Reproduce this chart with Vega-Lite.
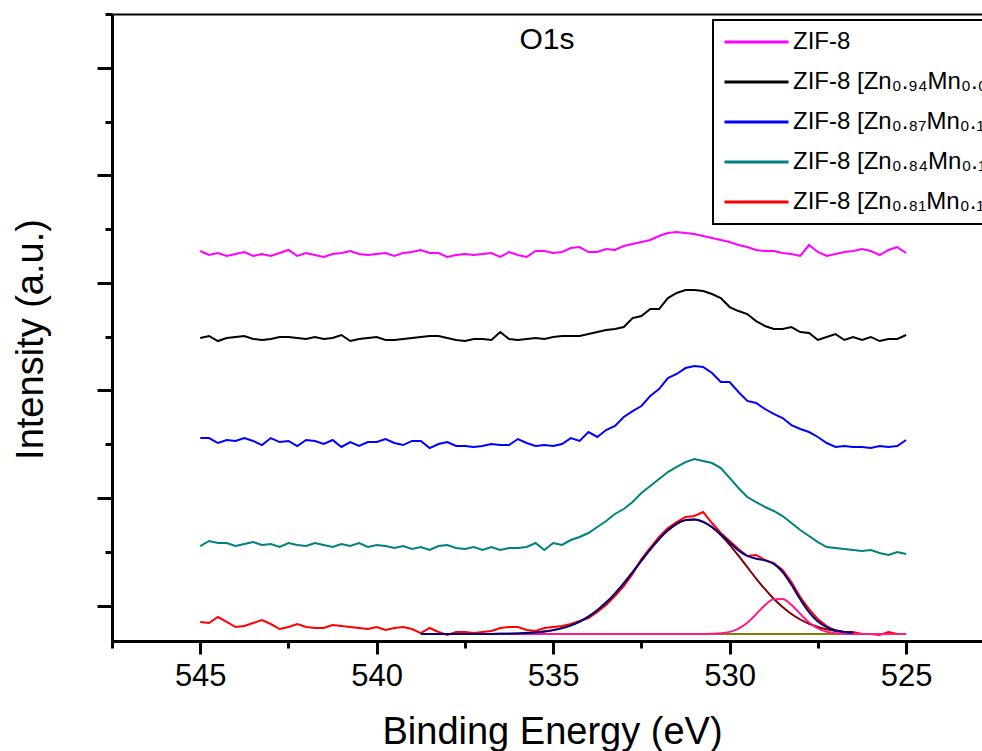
{
"$schema": "https://vega.github.io/schema/vega-lite/v6.json",
"width": 870, "height": 627,
"autosize": {"type": "none"},
"padding": {"left": 112, "top": 14, "right": 0, "bottom": 110},
"background": "white",
"config": {"view": {"stroke": null}, "font": "Liberation Sans", "legend": {"strokeWidth": 2}},
"title": {"text": "O1s", "frame": "group", "anchor": "middle", "baseline": "alphabetic", "offset": -39, "dy": 27, "font": "Liberation Sans", "fontSize": 30, "fontWeight": "normal", "color": "black"},
"data": {"values": [
{"s":"z","e":545,"i":3.296},{"s":"z","e":544.75,"i":3.259},{"s":"z","e":544.5,"i":3.278},{"s":"z","e":544.25,"i":3.25},{"s":"z","e":544,"i":3.268},{"s":"z","e":543.75,"i":3.287},{"s":"z","e":543.5,"i":3.25},{"s":"z","e":543.25,"i":3.268},{"s":"z","e":543,"i":3.25},{"s":"z","e":542.75,"i":3.278},{"s":"z","e":542.5,"i":3.306},{"s":"z","e":542.25,"i":3.25},{"s":"z","e":542,"i":3.278},{"s":"z","e":541.75,"i":3.259},{"s":"z","e":541.5,"i":3.241},{"s":"z","e":541.25,"i":3.268},{"s":"z","e":541,"i":3.278},{"s":"z","e":540.75,"i":3.296},{"s":"z","e":540.5,"i":3.268},{"s":"z","e":540.25,"i":3.259},{"s":"z","e":540,"i":3.268},{"s":"z","e":539.75,"i":3.278},{"s":"z","e":539.5,"i":3.25},{"s":"z","e":539.25,"i":3.278},{"s":"z","e":539,"i":3.287},{"s":"z","e":538.75,"i":3.306},{"s":"z","e":538.5,"i":3.278},{"s":"z","e":538.25,"i":3.278},{"s":"z","e":538,"i":3.241},{"s":"z","e":537.75,"i":3.259},{"s":"z","e":537.5,"i":3.268},{"s":"z","e":537.25,"i":3.259},{"s":"z","e":537,"i":3.268},{"s":"z","e":536.75,"i":3.278},{"s":"z","e":536.5,"i":3.241},{"s":"z","e":536.25,"i":3.287},{"s":"z","e":536,"i":3.259},{"s":"z","e":535.75,"i":3.241},{"s":"z","e":535.5,"i":3.296},{"s":"z","e":535.25,"i":3.296},{"s":"z","e":535,"i":3.278},{"s":"z","e":534.75,"i":3.287},{"s":"z","e":534.5,"i":3.324},{"s":"z","e":534.25,"i":3.333},{"s":"z","e":534,"i":3.287},{"s":"z","e":533.75,"i":3.287},{"s":"z","e":533.5,"i":3.315},{"s":"z","e":533.25,"i":3.306},{"s":"z","e":533,"i":3.343},{"s":"z","e":532.75,"i":3.361},{"s":"z","e":532.5,"i":3.38},{"s":"z","e":532.25,"i":3.399},{"s":"z","e":532,"i":3.436},{"s":"z","e":531.75,"i":3.464},{"s":"z","e":531.5,"i":3.473},{"s":"z","e":531.25,"i":3.464},{"s":"z","e":531,"i":3.454},{"s":"z","e":530.75,"i":3.436},{"s":"z","e":530.5,"i":3.417},{"s":"z","e":530.25,"i":3.399},{"s":"z","e":530,"i":3.38},{"s":"z","e":529.75,"i":3.352},{"s":"z","e":529.5,"i":3.333},{"s":"z","e":529.25,"i":3.306},{"s":"z","e":529,"i":3.296},{"s":"z","e":528.75,"i":3.296},{"s":"z","e":528.5,"i":3.278},{"s":"z","e":528.25,"i":3.268},{"s":"z","e":528,"i":3.25},{"s":"z","e":527.75,"i":3.352},{"s":"z","e":527.5,"i":3.287},{"s":"z","e":527.25,"i":3.25},{"s":"z","e":527,"i":3.268},{"s":"z","e":526.75,"i":3.287},{"s":"z","e":526.5,"i":3.296},{"s":"z","e":526.25,"i":3.315},{"s":"z","e":526,"i":3.296},{"s":"z","e":525.75,"i":3.259},{"s":"z","e":525.5,"i":3.306},{"s":"z","e":525.25,"i":3.333},{"s":"z","e":525,"i":3.278},
{"s":"a","e":545,"i":2.487},{"s":"a","e":544.75,"i":2.506},{"s":"a","e":544.5,"i":2.459},{"s":"a","e":544.25,"i":2.487},{"s":"a","e":544,"i":2.497},{"s":"a","e":543.75,"i":2.506},{"s":"a","e":543.5,"i":2.478},{"s":"a","e":543.25,"i":2.469},{"s":"a","e":543,"i":2.478},{"s":"a","e":542.75,"i":2.497},{"s":"a","e":542.5,"i":2.497},{"s":"a","e":542.25,"i":2.487},{"s":"a","e":542,"i":2.478},{"s":"a","e":541.75,"i":2.497},{"s":"a","e":541.5,"i":2.478},{"s":"a","e":541.25,"i":2.487},{"s":"a","e":541,"i":2.515},{"s":"a","e":540.75,"i":2.459},{"s":"a","e":540.5,"i":2.478},{"s":"a","e":540.25,"i":2.487},{"s":"a","e":540,"i":2.497},{"s":"a","e":539.75,"i":2.469},{"s":"a","e":539.5,"i":2.469},{"s":"a","e":539.25,"i":2.478},{"s":"a","e":539,"i":2.487},{"s":"a","e":538.75,"i":2.497},{"s":"a","e":538.5,"i":2.506},{"s":"a","e":538.25,"i":2.506},{"s":"a","e":538,"i":2.487},{"s":"a","e":537.75,"i":2.469},{"s":"a","e":537.5,"i":2.459},{"s":"a","e":537.25,"i":2.478},{"s":"a","e":537,"i":2.478},{"s":"a","e":536.75,"i":2.469},{"s":"a","e":536.5,"i":2.543},{"s":"a","e":536.25,"i":2.478},{"s":"a","e":536,"i":2.469},{"s":"a","e":535.75,"i":2.478},{"s":"a","e":535.5,"i":2.487},{"s":"a","e":535.25,"i":2.478},{"s":"a","e":535,"i":2.497},{"s":"a","e":534.75,"i":2.506},{"s":"a","e":534.5,"i":2.506},{"s":"a","e":534.25,"i":2.506},{"s":"a","e":534,"i":2.524},{"s":"a","e":533.75,"i":2.543},{"s":"a","e":533.5,"i":2.562},{"s":"a","e":533.25,"i":2.571},{"s":"a","e":533,"i":2.589},{"s":"a","e":532.75,"i":2.673},{"s":"a","e":532.5,"i":2.692},{"s":"a","e":532.25,"i":2.757},{"s":"a","e":532,"i":2.757},{"s":"a","e":531.75,"i":2.859},{"s":"a","e":531.5,"i":2.906},{"s":"a","e":531.25,"i":2.934},{"s":"a","e":531,"i":2.934},{"s":"a","e":530.75,"i":2.924},{"s":"a","e":530.5,"i":2.896},{"s":"a","e":530.25,"i":2.859},{"s":"a","e":530,"i":2.775},{"s":"a","e":529.75,"i":2.738},{"s":"a","e":529.5,"i":2.71},{"s":"a","e":529.25,"i":2.645},{"s":"a","e":529,"i":2.599},{"s":"a","e":528.75,"i":2.571},{"s":"a","e":528.5,"i":2.571},{"s":"a","e":528.25,"i":2.589},{"s":"a","e":528,"i":2.543},{"s":"a","e":527.75,"i":2.534},{"s":"a","e":527.5,"i":2.469},{"s":"a","e":527.25,"i":2.497},{"s":"a","e":527,"i":2.524},{"s":"a","e":526.75,"i":2.469},{"s":"a","e":526.5,"i":2.497},{"s":"a","e":526.25,"i":2.469},{"s":"a","e":526,"i":2.497},{"s":"a","e":525.75,"i":2.459},{"s":"a","e":525.5,"i":2.478},{"s":"a","e":525.25,"i":2.478},{"s":"a","e":525,"i":2.515},
{"s":"b","e":545,"i":1.557},{"s":"b","e":544.75,"i":1.557},{"s":"b","e":544.5,"i":1.511},{"s":"b","e":544.25,"i":1.539},{"s":"b","e":544,"i":1.53},{"s":"b","e":543.75,"i":1.557},{"s":"b","e":543.5,"i":1.53},{"s":"b","e":543.25,"i":1.492},{"s":"b","e":543,"i":1.557},{"s":"b","e":542.75,"i":1.52},{"s":"b","e":542.5,"i":1.53},{"s":"b","e":542.25,"i":1.483},{"s":"b","e":542,"i":1.539},{"s":"b","e":541.75,"i":1.53},{"s":"b","e":541.5,"i":1.502},{"s":"b","e":541.25,"i":1.539},{"s":"b","e":541,"i":1.474},{"s":"b","e":540.75,"i":1.52},{"s":"b","e":540.5,"i":1.483},{"s":"b","e":540.25,"i":1.52},{"s":"b","e":540,"i":1.52},{"s":"b","e":539.75,"i":1.548},{"s":"b","e":539.5,"i":1.511},{"s":"b","e":539.25,"i":1.492},{"s":"b","e":539,"i":1.53},{"s":"b","e":538.75,"i":1.53},{"s":"b","e":538.5,"i":1.464},{"s":"b","e":538.25,"i":1.502},{"s":"b","e":538,"i":1.52},{"s":"b","e":537.75,"i":1.483},{"s":"b","e":537.5,"i":1.483},{"s":"b","e":537.25,"i":1.474},{"s":"b","e":537,"i":1.483},{"s":"b","e":536.75,"i":1.502},{"s":"b","e":536.5,"i":1.492},{"s":"b","e":536.25,"i":1.492},{"s":"b","e":536,"i":1.548},{"s":"b","e":535.75,"i":1.511},{"s":"b","e":535.5,"i":1.483},{"s":"b","e":535.25,"i":1.492},{"s":"b","e":535,"i":1.483},{"s":"b","e":534.75,"i":1.502},{"s":"b","e":534.5,"i":1.557},{"s":"b","e":534.25,"i":1.53},{"s":"b","e":534,"i":1.613},{"s":"b","e":533.75,"i":1.567},{"s":"b","e":533.5,"i":1.632},{"s":"b","e":533.25,"i":1.669},{"s":"b","e":533,"i":1.753},{"s":"b","e":532.75,"i":1.808},{"s":"b","e":532.5,"i":1.855},{"s":"b","e":532.25,"i":1.948},{"s":"b","e":532,"i":2.013},{"s":"b","e":531.75,"i":2.115},{"s":"b","e":531.5,"i":2.153},{"s":"b","e":531.25,"i":2.208},{"s":"b","e":531,"i":2.227},{"s":"b","e":530.75,"i":2.218},{"s":"b","e":530.5,"i":2.162},{"s":"b","e":530.25,"i":2.078},{"s":"b","e":530,"i":2.078},{"s":"b","e":529.75,"i":1.985},{"s":"b","e":529.5,"i":1.902},{"s":"b","e":529.25,"i":1.883},{"s":"b","e":529,"i":1.827},{"s":"b","e":528.75,"i":1.781},{"s":"b","e":528.5,"i":1.743},{"s":"b","e":528.25,"i":1.678},{"s":"b","e":528,"i":1.641},{"s":"b","e":527.75,"i":1.613},{"s":"b","e":527.5,"i":1.567},{"s":"b","e":527.25,"i":1.511},{"s":"b","e":527,"i":1.474},{"s":"b","e":526.75,"i":1.483},{"s":"b","e":526.5,"i":1.474},{"s":"b","e":526.25,"i":1.474},{"s":"b","e":526,"i":1.464},{"s":"b","e":525.75,"i":1.483},{"s":"b","e":525.5,"i":1.474},{"s":"b","e":525.25,"i":1.483},{"s":"b","e":525,"i":1.539},
{"s":"c","e":545,"i":0.553},{"s":"c","e":544.75,"i":0.6},{"s":"c","e":544.5,"i":0.581},{"s":"c","e":544.25,"i":0.581},{"s":"c","e":544,"i":0.553},{"s":"c","e":543.75,"i":0.572},{"s":"c","e":543.5,"i":0.59},{"s":"c","e":543.25,"i":0.563},{"s":"c","e":543,"i":0.572},{"s":"c","e":542.75,"i":0.544},{"s":"c","e":542.5,"i":0.581},{"s":"c","e":542.25,"i":0.563},{"s":"c","e":542,"i":0.553},{"s":"c","e":541.75,"i":0.581},{"s":"c","e":541.5,"i":0.563},{"s":"c","e":541.25,"i":0.544},{"s":"c","e":541,"i":0.572},{"s":"c","e":540.75,"i":0.553},{"s":"c","e":540.5,"i":0.581},{"s":"c","e":540.25,"i":0.544},{"s":"c","e":540,"i":0.563},{"s":"c","e":539.75,"i":0.553},{"s":"c","e":539.5,"i":0.535},{"s":"c","e":539.25,"i":0.553},{"s":"c","e":539,"i":0.525},{"s":"c","e":538.75,"i":0.544},{"s":"c","e":538.5,"i":0.516},{"s":"c","e":538.25,"i":0.553},{"s":"c","e":538,"i":0.563},{"s":"c","e":537.75,"i":0.535},{"s":"c","e":537.5,"i":0.525},{"s":"c","e":537.25,"i":0.544},{"s":"c","e":537,"i":0.516},{"s":"c","e":536.75,"i":0.544},{"s":"c","e":536.5,"i":0.516},{"s":"c","e":536.25,"i":0.535},{"s":"c","e":536,"i":0.535},{"s":"c","e":535.75,"i":0.544},{"s":"c","e":535.5,"i":0.581},{"s":"c","e":535.25,"i":0.516},{"s":"c","e":535,"i":0.581},{"s":"c","e":534.75,"i":0.563},{"s":"c","e":534.5,"i":0.609},{"s":"c","e":534.25,"i":0.637},{"s":"c","e":534,"i":0.674},{"s":"c","e":533.75,"i":0.73},{"s":"c","e":533.5,"i":0.786},{"s":"c","e":533.25,"i":0.851},{"s":"c","e":533,"i":0.897},{"s":"c","e":532.75,"i":0.962},{"s":"c","e":532.5,"i":1.046},{"s":"c","e":532.25,"i":1.111},{"s":"c","e":532,"i":1.176},{"s":"c","e":531.75,"i":1.241},{"s":"c","e":531.5,"i":1.288},{"s":"c","e":531.25,"i":1.334},{"s":"c","e":531,"i":1.362},{"s":"c","e":530.75,"i":1.344},{"s":"c","e":530.5,"i":1.325},{"s":"c","e":530.25,"i":1.278},{"s":"c","e":530,"i":1.186},{"s":"c","e":529.75,"i":1.093},{"s":"c","e":529.5,"i":1.009},{"s":"c","e":529.25,"i":0.962},{"s":"c","e":529,"i":0.916},{"s":"c","e":528.75,"i":0.879},{"s":"c","e":528.5,"i":0.832},{"s":"c","e":528.25,"i":0.767},{"s":"c","e":528,"i":0.702},{"s":"c","e":527.75,"i":0.646},{"s":"c","e":527.5,"i":0.59},{"s":"c","e":527.25,"i":0.544},{"s":"c","e":527,"i":0.535},{"s":"c","e":526.75,"i":0.525},{"s":"c","e":526.5,"i":0.516},{"s":"c","e":526.25,"i":0.507},{"s":"c","e":526,"i":0.516},{"s":"c","e":525.75,"i":0.488},{"s":"c","e":525.5,"i":0.47},{"s":"c","e":525.25,"i":0.497},{"s":"c","e":525,"i":0.479},
{"s":"d","e":545,"i":-0.153},{"s":"d","e":544.75,"i":-0.163},{"s":"d","e":544.5,"i":-0.107},{"s":"d","e":544.25,"i":-0.153},{"s":"d","e":544,"i":-0.2},{"s":"d","e":543.75,"i":-0.191},{"s":"d","e":543.5,"i":-0.163},{"s":"d","e":543.25,"i":-0.135},{"s":"d","e":543,"i":-0.172},{"s":"d","e":542.75,"i":-0.219},{"s":"d","e":542.5,"i":-0.2},{"s":"d","e":542.25,"i":-0.172},{"s":"d","e":542,"i":-0.2},{"s":"d","e":541.75,"i":-0.209},{"s":"d","e":541.5,"i":-0.209},{"s":"d","e":541.25,"i":-0.181},{"s":"d","e":541,"i":-0.191},{"s":"d","e":540.75,"i":-0.2},{"s":"d","e":540.5,"i":-0.209},{"s":"d","e":540.25,"i":-0.219},{"s":"d","e":540,"i":-0.2},{"s":"d","e":539.75,"i":-0.228},{"s":"d","e":539.5,"i":-0.209},{"s":"d","e":539.25,"i":-0.2},{"s":"d","e":539,"i":-0.219},{"s":"d","e":538.75,"i":-0.256},{"s":"d","e":538.5,"i":-0.209},{"s":"d","e":538.25,"i":-0.246},{"s":"d","e":538,"i":-0.274},{"s":"d","e":537.75,"i":-0.246},{"s":"d","e":537.5,"i":-0.246},{"s":"d","e":537.25,"i":-0.256},{"s":"d","e":537,"i":-0.246},{"s":"d","e":536.75,"i":-0.237},{"s":"d","e":536.5,"i":-0.209},{"s":"d","e":536.25,"i":-0.2},{"s":"d","e":536,"i":-0.2},{"s":"d","e":535.75,"i":-0.228},{"s":"d","e":535.5,"i":-0.237},{"s":"d","e":535.25,"i":-0.209},{"s":"d","e":535,"i":-0.2},{"s":"d","e":534.75,"i":-0.191},{"s":"d","e":534.5,"i":-0.172},{"s":"d","e":534.25,"i":-0.144},{"s":"d","e":534,"i":-0.116},{"s":"d","e":533.75,"i":-0.06},{"s":"d","e":533.5,"i":0.005},{"s":"d","e":533.25,"i":0.088},{"s":"d","e":533,"i":0.181},{"s":"d","e":532.75,"i":0.293},{"s":"d","e":532.5,"i":0.432},{"s":"d","e":532.25,"i":0.535},{"s":"d","e":532,"i":0.637},{"s":"d","e":531.75,"i":0.721},{"s":"d","e":531.5,"i":0.776},{"s":"d","e":531.25,"i":0.823},{"s":"d","e":531,"i":0.832},{"s":"d","e":530.75,"i":0.869},{"s":"d","e":530.5,"i":0.767},{"s":"d","e":530.25,"i":0.674},{"s":"d","e":530,"i":0.6},{"s":"d","e":529.75,"i":0.525},{"s":"d","e":529.5,"i":0.46},{"s":"d","e":529.25,"i":0.47},{"s":"d","e":529,"i":0.423},{"s":"d","e":528.75,"i":0.395},{"s":"d","e":528.5,"i":0.33},{"s":"d","e":528.25,"i":0.219},{"s":"d","e":528,"i":0.079},{"s":"d","e":527.75,"i":-0.033},{"s":"d","e":527.5,"i":-0.126},{"s":"d","e":527.25,"i":-0.191},{"s":"d","e":527,"i":-0.237},{"s":"d","e":526.75,"i":-0.246},{"s":"d","e":526.5,"i":-0.246},{"s":"d","e":526.25,"i":-0.265},{"s":"d","e":526,"i":-0.265},{"s":"d","e":525.75,"i":-0.274},{"s":"d","e":525.5,"i":-0.246},{"s":"d","e":525.25,"i":-0.265},{"s":"d","e":525,"i":-0.265},
{"s":"fo","e":538.75,"i":-0.265},{"s":"fo","e":525,"i":-0.265},
{"s":"fb","e":538.75,"i":-0.265},{"s":"fb","e":537.5,"i":-0.265},{"s":"fb","e":537.25,"i":-0.2648},{"s":"fb","e":537,"i":-0.2645},{"s":"fb","e":536.75,"i":-0.2641},{"s":"fb","e":536.5,"i":-0.2633},{"s":"fb","e":536.25,"i":-0.262},{"s":"fb","e":536,"i":-0.2598},{"s":"fb","e":535.75,"i":-0.2562},{"s":"fb","e":535.5,"i":-0.2505},{"s":"fb","e":535.25,"i":-0.2419},{"s":"fb","e":535,"i":-0.229},{"s":"fb","e":534.75,"i":-0.2103},{"s":"fb","e":534.5,"i":-0.1842},{"s":"fb","e":534.25,"i":-0.1489},{"s":"fb","e":534,"i":-0.1027},{"s":"fb","e":533.75,"i":-0.0443},{"s":"fb","e":533.5,"i":0.0271},{"s":"fb","e":533.25,"i":0.1111},{"s":"fb","e":533,"i":0.2061},{"s":"fb","e":532.75,"i":0.3093},{"s":"fb","e":532.5,"i":0.4162},{"s":"fb","e":532.25,"i":0.5211},{"s":"fb","e":532,"i":0.6176},{"s":"fb","e":531.75,"i":0.6987},{"s":"fb","e":531.5,"i":0.7592},{"s":"fb","e":531.25,"i":0.794},{"s":"fb","e":531,"i":0.8003},{"s":"fb","e":530.75,"i":0.7778},{"s":"fb","e":530.5,"i":0.7281},{"s":"fb","e":530.25,"i":0.6552},{"s":"fb","e":530,"i":0.5647},{"s":"fb","e":529.75,"i":0.463},{"s":"fb","e":529.5,"i":0.3561},{"s":"fb","e":529.25,"i":0.2508},{"s":"fb","e":529,"i":0.1518},{"s":"fb","e":528.75,"i":0.0627},{"s":"fb","e":528.5,"i":-0.0145},{"s":"fb","e":528.25,"i":-0.0786},{"s":"fb","e":528,"i":-0.1301},{"s":"fb","e":527.75,"i":-0.17},{"s":"fb","e":527.5,"i":-0.1998},{"s":"fb","e":527.25,"i":-0.2215},{"s":"fb","e":527,"i":-0.2368},{"s":"fb","e":526.75,"i":-0.2472},{"s":"fb","e":526.5,"i":-0.2541},
{"s":"fp","e":538.75,"i":-0.265},{"s":"fp","e":531,"i":-0.265},{"s":"fp","e":530.75,"i":-0.2646},{"s":"fp","e":530.5,"i":-0.2633},{"s":"fp","e":530.25,"i":-0.2586},{"s":"fp","e":530,"i":-0.2454},{"s":"fp","e":529.75,"i":-0.2153},{"s":"fp","e":529.5,"i":-0.1599},{"s":"fp","e":529.25,"i":-0.0808},{"s":"fp","e":529,"i":0.0029},{"s":"fp","e":528.75,"i":0.0588},{"s":"fp","e":528.5,"i":0.06},{"s":"fp","e":528.25,"i":0.0059},{"s":"fp","e":528,"i":-0.0774},{"s":"fp","e":527.75,"i":-0.1572},{"s":"fp","e":527.5,"i":-0.2135},{"s":"fp","e":527.25,"i":-0.2446},{"s":"fp","e":527,"i":-0.2583},{"s":"fp","e":526.75,"i":-0.2632},{"s":"fp","e":526.5,"i":-0.2646},{"s":"fp","e":525,"i":-0.265},
{"s":"fn","e":538.75,"i":-0.265},{"s":"fn","e":537.5,"i":-0.265},{"s":"fn","e":537.25,"i":-0.2648},{"s":"fn","e":537,"i":-0.2645},{"s":"fn","e":536.75,"i":-0.2641},{"s":"fn","e":536.5,"i":-0.2633},{"s":"fn","e":536.25,"i":-0.262},{"s":"fn","e":536,"i":-0.2598},{"s":"fn","e":535.75,"i":-0.2562},{"s":"fn","e":535.5,"i":-0.2505},{"s":"fn","e":535.25,"i":-0.2419},{"s":"fn","e":535,"i":-0.229},{"s":"fn","e":534.75,"i":-0.2103},{"s":"fn","e":534.5,"i":-0.1842},{"s":"fn","e":534.25,"i":-0.1489},{"s":"fn","e":534,"i":-0.1027},{"s":"fn","e":533.75,"i":-0.0443},{"s":"fn","e":533.5,"i":0.0271},{"s":"fn","e":533.25,"i":0.1111},{"s":"fn","e":533,"i":0.2061},{"s":"fn","e":532.75,"i":0.3093},{"s":"fn","e":532.5,"i":0.4162},{"s":"fn","e":532.25,"i":0.5211},{"s":"fn","e":532,"i":0.6176},{"s":"fn","e":531.75,"i":0.6987},{"s":"fn","e":531.5,"i":0.7592},{"s":"fn","e":531.25,"i":0.794},{"s":"fn","e":531,"i":0.8004},{"s":"fn","e":530.75,"i":0.7782},{"s":"fn","e":530.5,"i":0.7298},{"s":"fn","e":530.25,"i":0.6616},{"s":"fn","e":530,"i":0.5843},{"s":"fn","e":529.75,"i":0.5127},{"s":"fn","e":529.5,"i":0.4612},{"s":"fn","e":529.25,"i":0.435},{"s":"fn","e":529,"i":0.4197},{"s":"fn","e":528.75,"i":0.3865},{"s":"fn","e":528.5,"i":0.3105},{"s":"fn","e":528.25,"i":0.1923},{"s":"fn","e":528,"i":0.0575},{"s":"fn","e":527.75,"i":-0.0622},{"s":"fn","e":527.5,"i":-0.1483},{"s":"fn","e":527.25,"i":-0.2011},{"s":"fn","e":527,"i":-0.2301},{"s":"fn","e":526.75,"i":-0.2454},{"s":"fn","e":526.5,"i":-0.2537}
]},
"resolve": {"axis": {"x": "independent"}},
"layer": [
{
"transform": [{"filter": {"field": "s", "oneOf": ["z", "a", "b", "c", "d"]}}],
"mark": {"type": "line", "strokeWidth": 2, "clip": true},
"encoding": {
"x": {"field": "e", "type": "quantitative", "scale": {"domain": [522.85, 547.5], "reverse": true, "nice": false, "zero": false},
"axis": {"orient": "bottom", "values": [547.5, 545, 542.5, 540, 537.5, 535, 532.5, 530, 527.5, 525], "tickSize": {"condition": {"test": "datum.value % 5 === 0", "value": 13}, "value": 7}, "tickWidth": 3, "tickColor": "black", "domainColor": "black", "domainWidth": 3, "grid": false, "labelExpr": "datum.value % 5 === 0 ? format(datum.value, 'd') : ''", "labelFont": "Liberation Sans", "labelFontSize": 31, "labelColor": "black", "labelPadding": 7, "labelFlush": false, "labelOverlap": false, "title": "Binding Energy (eV)", "titleFont": "Liberation Sans", "titleFontSize": 38, "titleFontWeight": "normal", "titleColor": "black", "titleX": 440, "titleY": 102, "titleBaseline": "alphabetic"}},
"y": {"field": "i", "type": "quantitative", "scale": {"domain": [-0.33, 5.5], "nice": false, "zero": false},
"axis": {"orient": "left", "values": [0, 0.5, 1, 1.5, 2, 2.5, 3, 3.5, 4, 4.5, 5, 5.5], "tickSize": {"condition": {"test": "datum.value % 1 === 0", "value": 15}, "value": 7}, "tickWidth": 3, "tickColor": "black", "domainColor": "black", "domainWidth": 3, "grid": false, "labels": false, "title": "Intensity (a.u.)", "titleFont": "Liberation Sans", "titleFontSize": 38, "titleFontWeight": "normal", "titleColor": "black", "titleX": -70, "titleY": 325, "titleBaseline": "alphabetic", "titleAngle": -90}},
"color": {"field": "s", "type": "nominal", "scale": {"domain": ["z", "a", "b", "c", "d"], "range": ["#ff00ff", "#000000", "#0000ff", "#008080", "#ff0000"]},
"legend": {"orient": "none", "legendX": 601, "legendY": 6, "title": null, "symbolType": "stroke", "symbolSize": 4096, "symbolStrokeWidth": 3, "clipHeight": 24, "labelFont": "Liberation Sans", "labelFontSize": 24, "labelColor": "black", "labelLimit": 600, "labelOffset": 3, "rowPadding": 16, "padding": 10, "strokeColor": "black", "fillColor": "white",
"labelExpr": "datum.label === 'z' ? 'ZIF-8' : datum.label === 'a' ? 'ZIF-8 [Zn₀.₉₄Mn₀.₀₆]' : datum.label === 'b' ? 'ZIF-8 [Zn₀.₈₇Mn₀.₁₃]' : datum.label === 'c' ? 'ZIF-8 [Zn₀.₈₄Mn₀.₁₆]' : 'ZIF-8 [Zn₀.₈₁Mn₀.₁₉]'"}}
}
},
{
"transform": [{"filter": "datum.s === 'fo'"}],
"mark": {"type": "line", "strokeWidth": 2, "color": "#808000", "clip": true},
"encoding": {
"x": {"field": "e", "type": "quantitative", "scale": {"domain": [522.85, 547.5], "reverse": true, "nice": false, "zero": false},
"axis": {"orient": "top", "ticks": false, "labels": false, "title": null, "grid": false, "domainColor": "black", "domainWidth": 2}},
"y": {"field": "i", "type": "quantitative", "scale": {"domain": [-0.33, 5.5], "nice": false, "zero": false}}
}
},
{
"transform": [{"filter": "datum.s === 'fb'"}],
"mark": {"type": "line", "strokeWidth": 2, "color": "#800000", "interpolate": "monotone", "clip": true},
"encoding": {
"x": {"field": "e", "type": "quantitative", "scale": {"domain": [522.85, 547.5], "reverse": true, "nice": false, "zero": false}, "axis": null},
"y": {"field": "i", "type": "quantitative", "scale": {"domain": [-0.33, 5.5], "nice": false, "zero": false}}
}
},
{
"transform": [{"filter": "datum.s === 'fp'"}],
"mark": {"type": "line", "strokeWidth": 2, "color": "#ff1a8c", "interpolate": "monotone", "clip": true},
"encoding": {
"x": {"field": "e", "type": "quantitative", "scale": {"domain": [522.85, 547.5], "reverse": true, "nice": false, "zero": false}, "axis": null},
"y": {"field": "i", "type": "quantitative", "scale": {"domain": [-0.33, 5.5], "nice": false, "zero": false}}
}
},
{
"transform": [{"filter": "datum.s === 'fn'"}],
"mark": {"type": "line", "strokeWidth": 2, "color": "#000080", "interpolate": "monotone", "clip": true},
"encoding": {
"x": {"field": "e", "type": "quantitative", "scale": {"domain": [522.85, 547.5], "reverse": true, "nice": false, "zero": false}, "axis": null},
"y": {"field": "i", "type": "quantitative", "scale": {"domain": [-0.33, 5.5], "nice": false, "zero": false}}
}
}
]
}
